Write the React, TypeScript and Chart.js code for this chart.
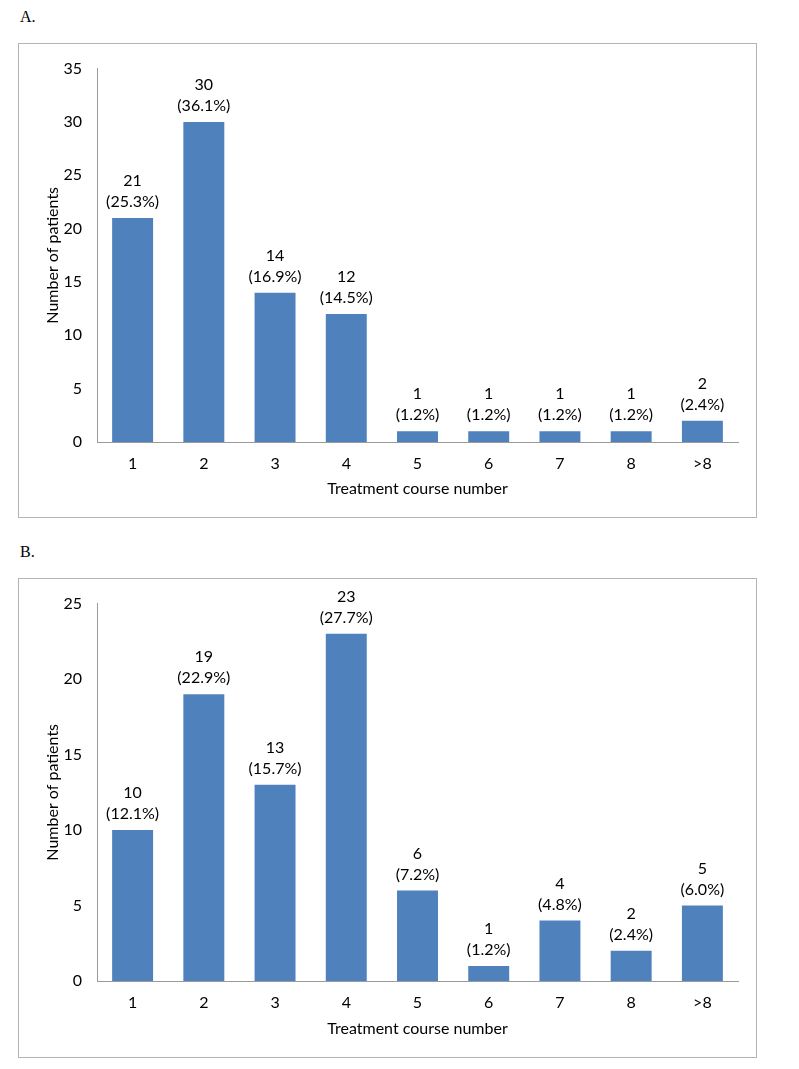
import React, { useEffect, useRef } from "react";
import { Chart, registerables } from "chart.js";

Chart.register(...registerables);

const categories = ["1", "2", "3", "4", "5", "6", "7", "8", ">8"];
const countsA = [21, 30, 14, 12, 1, 1, 1, 1, 2];
const percentA = ["25.3%", "36.1%", "16.9%", "14.5%", "1.2%", "1.2%", "1.2%", "1.2%", "2.4%"];
const countsB = [10, 19, 13, 23, 6, 1, 4, 2, 5];
const percentB = ["12.1%", "22.9%", "15.7%", "27.7%", "7.2%", "1.2%", "4.8%", "2.4%", "6.0%"];
const yTicksA = { max: 35, step: 5 };
const yTicksB = { max: 25, step: 5 };

const FONT = "Lato, 'Noto Sans', sans-serif";
const FS = 16;
const BAR = "#4F81BD";
const AXIS = "#9a9a9a";
const TEXT = "#000000";

type PanelProps = {
  left: number;
  top: number;
  width: number;
  height: number;
  counts: number[];
  percents: string[];
  yMax: number;
  yStep: number;
  xAxisHeight: number;
};

function Panel(p: PanelProps) {
  const ref = useRef<HTMLCanvasElement | null>(null);
  useEffect(() => {
    if (!ref.current) return;
    const labelPlugin = {
      id: "barLabels",
      afterDatasetsDraw(chart: any) {
        const ctx = chart.ctx;
        const meta = chart.getDatasetMeta(0);
        ctx.save();
        ctx.font = `${FS}px ${FONT}`;
        ctx.fillStyle = TEXT;
        ctx.textAlign = "center";
        ctx.textBaseline = "middle";
        meta.data.forEach((el: any, i: number) => {
          ctx.fillText(String(p.counts[i]), el.x, el.y - 37);
          ctx.fillText(`(${p.percents[i]})`, el.x, el.y - 16);
        });
        ctx.restore();
      },
    };
    const chart = new Chart(ref.current, {
      type: "bar",
      data: {
        labels: categories,
        datasets: [
          {
            data: p.counts,
            backgroundColor: BAR,
            borderWidth: 0,
            barPercentage: 0.575,
            categoryPercentage: 1,
          },
        ],
      },
      options: {
        responsive: false,
        animation: false,
        devicePixelRatio: 1,
        layout: { padding: { left: 0, right: 18, top: 18, bottom: 0 } },
        plugins: {
          legend: { display: false },
          tooltip: { enabled: false },
        },
        scales: {
          x: {
            grid: { display: false, drawTicks: false },
            border: { display: true, color: AXIS, width: 1 },
            ticks: { color: TEXT, font: { family: FONT, size: FS }, padding: 12 },
            title: {
              display: true,
              text: "Treatment course number",
              color: TEXT,
              font: { family: FONT, size: FS },
              padding: { top: 19, bottom: 19 },
            },
            afterFit: (s: any) => {
              s.height = p.xAxisHeight;
            },
          },
          y: {
            min: 0,
            max: p.yMax,
            grid: { display: false, drawTicks: false },
            border: { display: true, color: AXIS, width: 1 },
            ticks: {
              stepSize: p.yStep,
              color: TEXT,
              font: { family: FONT, size: FS },
              padding: 15,
            },
            title: {
              display: true,
              text: "Number of patients",
              color: TEXT,
              font: { family: FONT, size: FS },
              padding: { top: 24, bottom: 24 },
            },
            afterFit: (s: any) => {
              s.width = 78;
            },
          },
        },
      },
      plugins: [labelPlugin],
    });
    return () => chart.destroy();
  }, []);
  return (
    <div
      style={{
        position: "absolute",
        left: p.left,
        top: p.top,
        width: p.width,
        height: p.height,
        border: "1px solid #b4b4b4",
        boxSizing: "border-box",
        background: "#fff",
      }}
    >
      <canvas
        ref={ref}
        width={p.width - 2}
        height={p.height - 2}
        style={{ display: "block", width: p.width - 2, height: p.height - 2 }}
      />
    </div>
  );
}

const labelStyle: React.CSSProperties = {
  position: "absolute",
  left: 20,
  fontFamily: "'Liberation Serif', 'Times New Roman', serif",
  fontSize: 16,
  lineHeight: "18px",
  color: "#000",
};

export default function App() {
  return (
    <div style={{ position: "absolute", left: 0, top: 0, width: 799, height: 1069, background: "#fff" }}>
      <div style={{ ...labelStyle, top: 8 }}>A.</div>
      <Panel
        left={18}
        top={43}
        width={739}
        height={475}
        counts={countsA}
        percents={percentA}
        yMax={yTicksA.max}
        yStep={yTicksA.step}
        xAxisHeight={75}
      />
      <div style={{ ...labelStyle, top: 543 }}>B.</div>
      <Panel
        left={18}
        top={578}
        width={739}
        height={480}
        counts={countsB}
        percents={percentB}
        yMax={yTicksB.max}
        yStep={yTicksB.step}
        xAxisHeight={76}
      />
    </div>
  );
}
